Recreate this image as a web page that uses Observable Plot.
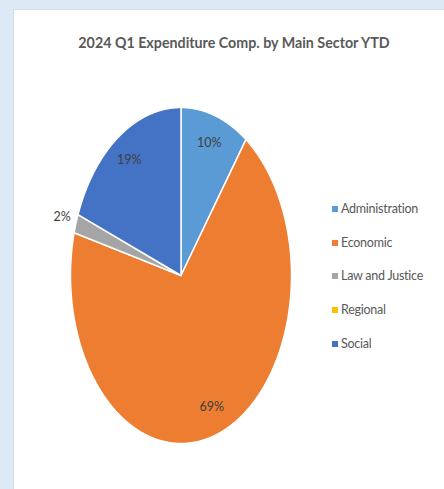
<!DOCTYPE html>
<html>
<head>
<meta charset="utf-8">
<script src="https://cdn.jsdelivr.net/npm/d3@7"></script>
<script src="https://cdn.jsdelivr.net/npm/@observablehq/plot@0.6"></script>
<style>
  html, body { margin: 0; padding: 0; width: 444px; height: 489px; overflow: hidden; background: #dde9f5; }
  #panel { position: absolute; left: 13px; top: 9px; width: 440px; height: 490px; background: #fff; border-left: 1px solid #d3dde8; border-top: 1px solid #d3dde8; }
  #title { position: absolute; left: 0; width: 468px; top: 33px; text-align: center; font-family: Lato, sans-serif; font-weight: bold; font-size: 15.5px; color: #595959; transform: scaleX(0.92); transform-origin: 234px 0; }
  #chart { position: absolute; left: 0; top: 0; }
  #legend { position: absolute; left: 332px; top: 192.5px; }
</style>
</head>
<body>
<div id="panel"></div>
<div id="title">2024 Q1 Expenditure Comp. by Main Sector YTD</div>
<div id="chart"></div>
<div id="legend"></div>
<script>
const sectors = ["Administration", "Economic", "Law and Justice", "Regional", "Social"];
const shares = [10.0, 69.1, 1.8, 0.0, 19.1];
const colors = ["#5b9bd5", "#ed7d31", "#a5a5a5", "#ffc000", "#4472c4"];

const total = d3.sum(shares);
const poly = [];
const labels = [];
let cum = 0;
sectors.forEach((s, i) => {
  const a0 = cum / total * 2 * Math.PI;
  cum += shares[i];
  const a1 = cum / total * 2 * Math.PI;
  if (shares[i] <= 0) return;
  poly.push({sector: s, x: 0, y: 0});
  const n = Math.max(2, Math.ceil((a1 - a0) / 0.01));
  for (let k = 0; k <= n; k++) {
    const a = a0 + (a1 - a0) * k / n;
    poly.push({sector: s, x: Math.sin(a), y: Math.cos(a)});
  }
  poly.push({sector: s, x: 0, y: 0});
  const am = (a0 + a1) / 2;
  const r = shares[i] / total < 0.05 ? 1.13 : 0.83;
  labels.push({sector: s, x: r * Math.sin(am), y: r * Math.cos(am), text: Math.round(shares[i] / total * 100) + "%"});
});

const font = "Lato, sans-serif";
const plot = Plot.plot({
  width: 444,
  height: 489,
  marginTop: 0, marginBottom: 0, marginLeft: 0, marginRight: 0,
  style: {background: "transparent", overflow: "visible"},
  x: {domain: [-1, 1], range: [70, 291], axis: null},
  y: {domain: [-1, 1], range: [443, 107], axis: null},
  color: {domain: sectors, range: colors},
  marks: [
    Plot.line(poly, {x: "x", y: "y", z: "sector", fill: "sector", stroke: "white", strokeWidth: 1.5, curve: "linear"}),
    Plot.text(labels, {x: "x", y: "y", text: "text", fill: "#404040", fontSize: 12.5, fontFamily: font})
  ]
});
document.getElementById("chart").appendChild(plot);
const leg = plot.legend("color", {columns: 1, swatchSize: 6});
leg.style.fontFamily = font;
leg.style.fontSize = "12.5px";
leg.style.letterSpacing = "-0.25px";
leg.style.color = "#595959";
leg.style.margin = "0";
Array.from(leg.children).filter(el => el.tagName === "DIV").forEach(el => {
  el.style.height = "32.8px";
  el.style.lineHeight = "18px";
  el.style.margin = "0";
  el.style.paddingLeft = "0";
  const sw = el.querySelector("svg");
  if (sw) sw.style.marginRight = "3px";
});
document.getElementById("legend").appendChild(leg);
</script>
</body>
</html>
